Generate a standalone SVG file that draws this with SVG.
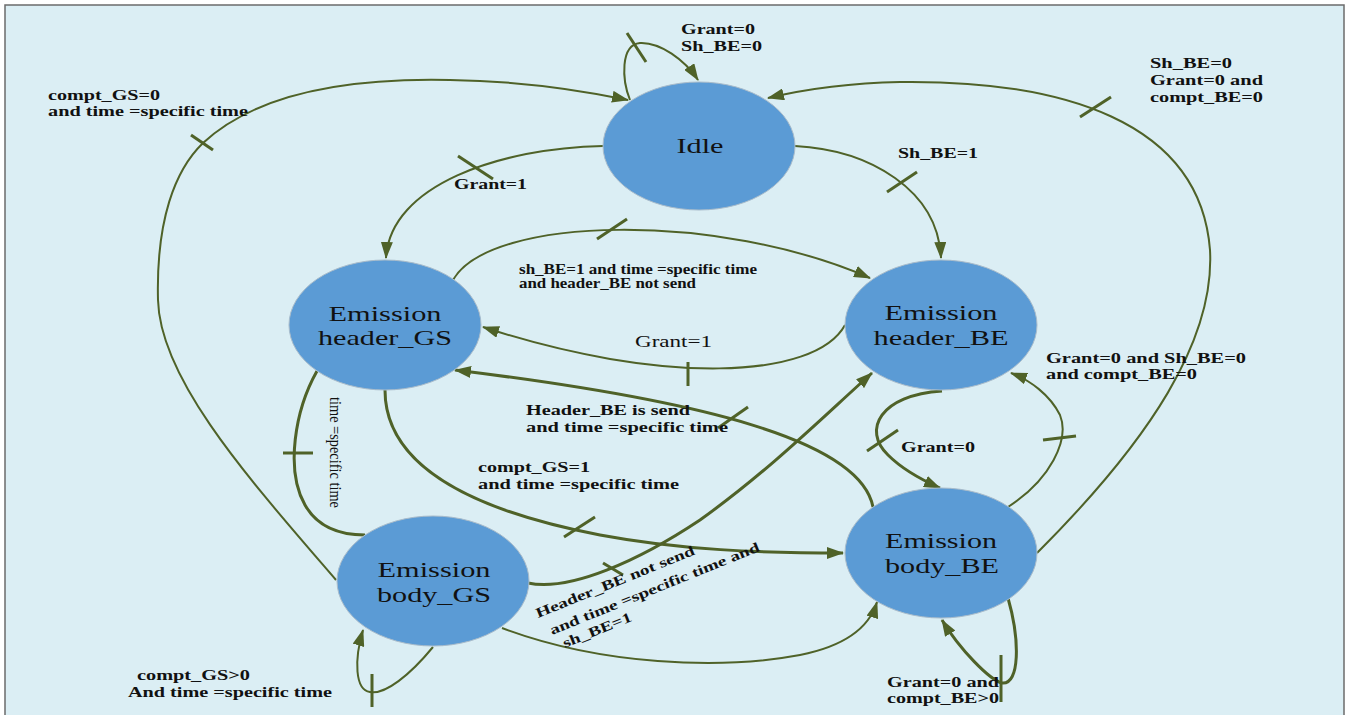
<svg xmlns="http://www.w3.org/2000/svg" width="1348" height="715" viewBox="0 0 1348 715">
<style>
.node{fill:#5B9BD5;stroke:#A9BCCB;stroke-width:1}
.nt{font-family:"Liberation Serif","Times New Roman",serif;font-size:22px;fill:#111;text-anchor:middle}
.c{fill:none;stroke:#4F6228;stroke-width:2}
.k{stroke-width:3}
.a{marker-end:url(#ah)}
.t{fill:none;stroke:#4F6228;stroke-width:3}
.l{font-family:"Liberation Serif","Times New Roman",serif;font-size:14px;font-weight:bold;fill:#111}
.r{font-family:"Liberation Serif","Times New Roman",serif;font-size:16px;fill:#111}
</style>
<defs>
<marker id="ah" markerUnits="userSpaceOnUse" markerWidth="17" markerHeight="12" refX="16" refY="6" orient="auto">
<path d="M0,0 L17,6 L0,12 z" fill="#4F6228"/>
</marker>
</defs>
<rect x="0" y="0" width="1348" height="715" fill="#FFFFFF"/>
<rect x="5" y="5" width="1339" height="720" fill="#DBEEF4" stroke="#6B6B6B" stroke-width="1.5"/>

<g id="connectors">
<!-- Idle self loop -->
<path class="c a" d="M630,100 C 622,80 620,45 640,43 C 660,42 685,60 698,80"/>
<line class="t" x1="627" y1="33" x2="646" y2="62"/>
<!-- body_GS -> Idle (compt_GS=0) -->
<path class="c a" d="M336,580 C 250,480 160,380 158,300 C 156,220 175,170 203,143 C 260,90 360,78 450,80 C 520,81 580,90 628,100"/>
<line class="t" x1="191" y1="135" x2="213" y2="150"/>
<!-- body_BE -> Idle -->
<path class="c a" d="M1037,553 C 1150,440 1215,340 1210,250 C 1200,120 1060,80 900,82 C 850,83 810,88 768,98"/>
<line class="t" x1="1080" y1="117" x2="1111" y2="97"/>
<!-- Idle -> header_GS -->
<path class="c a" d="M603,146 C 500,148 390,185 386,258"/>
<line class="t" x1="458" y1="156" x2="493" y2="179"/>
<!-- Idle -> header_BE -->
<path class="c a" d="M795,146 C 870,150 938,190 941,258"/>
<line class="t" x1="887" y1="192" x2="917" y2="172"/>
<!-- header_GS -> header_BE -->
<path class="c a" d="M453,280 C 490,215 720,212 870,278"/>
<line class="t" x1="597" y1="239" x2="627" y2="219"/>
<!-- header_BE -> header_GS (Grant=1) -->
<path class="c a" d="M845,325 C 815,380 660,385 483,327"/>
<line class="t" x1="688" y1="362" x2="688" y2="386"/>
<!-- body_BE -> header_GS (Header_BE is send) -->
<path class="c k a" d="M873,507 C 860,440 700,400 455,370"/>
<line class="t" x1="718" y1="428" x2="748" y2="407"/>
<!-- header_GS -> body_BE (compt_GS=1) -->
<path class="c k a" d="M385,390 C 385,465 470,510 600,535 C 680,550 760,553 843,553"/>
<line class="t" x1="564" y1="537" x2="595" y2="517"/>
<!-- body_GS -> header_BE -->
<path class="c k a" d="M528,583 C 570,592 640,560 700,520 C 770,470 825,415 872,373"/>
<line class="t" x1="603" y1="563" x2="623" y2="575"/>
<!-- body_GS -> body_BE thin -->
<path class="c a" d="M502,628 C 600,665 720,670 800,655 C 850,645 870,625 877,602"/>
<!-- header_GS -> body_GS (time = specific time) -->
<path class="c k" d="M317,371 C 295,410 285,470 305,505 C 318,528 340,535 365,535"/>
<line class="t" x1="283" y1="453" x2="313" y2="453"/>
<!-- body_GS self loop -->
<path class="c a" d="M433,647 C 410,675 385,695 370,692 C 355,690 354,660 363,630"/>
<line class="t" x1="372" y1="674" x2="372" y2="707"/>
<!-- header_BE -> body_BE (Grant=0) -->
<path class="c k a" d="M942,391 C 880,395 862,430 888,455 C 903,470 922,480 940,488"/>
<line class="t" x1="867" y1="451" x2="898" y2="430"/>
<!-- body_BE -> header_BE thin -->
<path class="c a" d="M1008,507 C 1050,480 1070,440 1060,415 C 1050,395 1030,380 1011,373"/>
<line class="t" x1="1043" y1="440" x2="1076" y2="436"/>
<!-- body_BE self loop -->
<path class="c k a" d="M1008,598 C 1020,640 1020,685 1002,683 C 990,680 960,650 942,620"/>
<line class="t" x1="1001" y1="655" x2="1001" y2="702"/>
</g>

<g id="labels">
<text class="l" x="681" y="34" textLength="74" lengthAdjust="spacingAndGlyphs">Grant=0</text>
<text class="l" x="681" y="51" textLength="81" lengthAdjust="spacingAndGlyphs">Sh_BE=0</text>
<text class="l" x="48" y="100" textLength="112" lengthAdjust="spacingAndGlyphs">compt_GS=0</text>
<text class="l" x="48" y="116" textLength="200" lengthAdjust="spacingAndGlyphs">and time =specific time</text>
<text class="l" x="1150" y="68" textLength="82" lengthAdjust="spacingAndGlyphs">Sh_BE=0</text>
<text class="l" x="1150" y="85" textLength="113" lengthAdjust="spacingAndGlyphs">Grant=0 and</text>
<text class="l" x="1150" y="102" textLength="113" lengthAdjust="spacingAndGlyphs">compt_BE=0</text>
<text class="l" x="454" y="189" textLength="73" lengthAdjust="spacingAndGlyphs">Grant=1</text>
<text class="l" x="898" y="158" textLength="80" lengthAdjust="spacingAndGlyphs">Sh_BE=1</text>
<text class="l" x="519" y="274" font-size="12" textLength="238" lengthAdjust="spacingAndGlyphs">sh_BE=1 and time =specific time</text>
<text class="l" x="519" y="288" font-size="12" textLength="177" lengthAdjust="spacingAndGlyphs">and header_BE not send</text>
<text class="r" x="635" y="347" textLength="77" lengthAdjust="spacingAndGlyphs">Grant=1</text>
<text class="l" x="526" y="415" textLength="164" lengthAdjust="spacingAndGlyphs">Header_BE is send</text>
<text class="l" x="526" y="432" textLength="202" lengthAdjust="spacingAndGlyphs">and time =specific time</text>
<text class="l" x="478" y="472" textLength="112" lengthAdjust="spacingAndGlyphs">compt_GS=1</text>
<text class="l" x="478" y="489" textLength="201" lengthAdjust="spacingAndGlyphs">and time =specific time</text>
<text class="r" x="0" y="0" font-size="20" transform="translate(330,397) rotate(90)" textLength="111" lengthAdjust="spacingAndGlyphs">time =specific time</text>
<text class="l" transform="translate(538,618) rotate(-22)" textLength="170" lengthAdjust="spacingAndGlyphs">Header_BE not send</text>
<text class="l" transform="translate(552,635) rotate(-22)" textLength="225" lengthAdjust="spacingAndGlyphs">and time =specific time and</text>
<text class="l" transform="translate(565,648) rotate(-22)" textLength="73" lengthAdjust="spacingAndGlyphs">sh_BE=1</text>
<text class="l" x="137" y="680" textLength="113" lengthAdjust="spacingAndGlyphs">compt_GS&gt;0</text>
<text class="l" x="128" y="697" textLength="204" lengthAdjust="spacingAndGlyphs">And time =specific time</text>
<text class="l" x="901" y="452" textLength="74" lengthAdjust="spacingAndGlyphs">Grant=0</text>
<text class="l" x="1046" y="363" textLength="200" lengthAdjust="spacingAndGlyphs">Grant=0 and Sh_BE=0</text>
<text class="l" x="1046" y="379" textLength="151" lengthAdjust="spacingAndGlyphs">and compt_BE=0</text>
<text class="l" x="887" y="687" textLength="112" lengthAdjust="spacingAndGlyphs">Grant=0 and</text>
<text class="l" x="887" y="703" textLength="112" lengthAdjust="spacingAndGlyphs">compt_BE&gt;0</text>
</g>

<g id="idle">
<ellipse class="node" cx="699" cy="146" rx="96" ry="64"/>
<text class="nt" x="700" y="153" textLength="47" lengthAdjust="spacingAndGlyphs">Idle</text>
</g>
<g id="header_gs">
<ellipse class="node" cx="385" cy="325" rx="96" ry="65"/>
<text class="nt" x="385" y="321" textLength="113" lengthAdjust="spacingAndGlyphs">Emission</text>
<text class="nt" x="385" y="345" textLength="134" lengthAdjust="spacingAndGlyphs">header_GS</text>
</g>
<g id="header_be">
<ellipse class="node" cx="941" cy="325" rx="96" ry="65"/>
<text class="nt" x="941" y="320" textLength="113" lengthAdjust="spacingAndGlyphs">Emission</text>
<text class="nt" x="941" y="345" textLength="135" lengthAdjust="spacingAndGlyphs">header_BE</text>
</g>
<g id="body_gs">
<ellipse class="node" cx="433" cy="581" rx="96" ry="65"/>
<text class="nt" x="434" y="577" textLength="113" lengthAdjust="spacingAndGlyphs">Emission</text>
<text class="nt" x="434" y="602" textLength="114" lengthAdjust="spacingAndGlyphs">body_GS</text>
</g>
<g id="body_be">
<ellipse class="node" cx="941" cy="553" rx="96" ry="65"/>
<text class="nt" x="941" y="548" textLength="112" lengthAdjust="spacingAndGlyphs">Emission</text>
<text class="nt" x="942" y="573" textLength="114" lengthAdjust="spacingAndGlyphs">body_BE</text>
</g>
</svg>
